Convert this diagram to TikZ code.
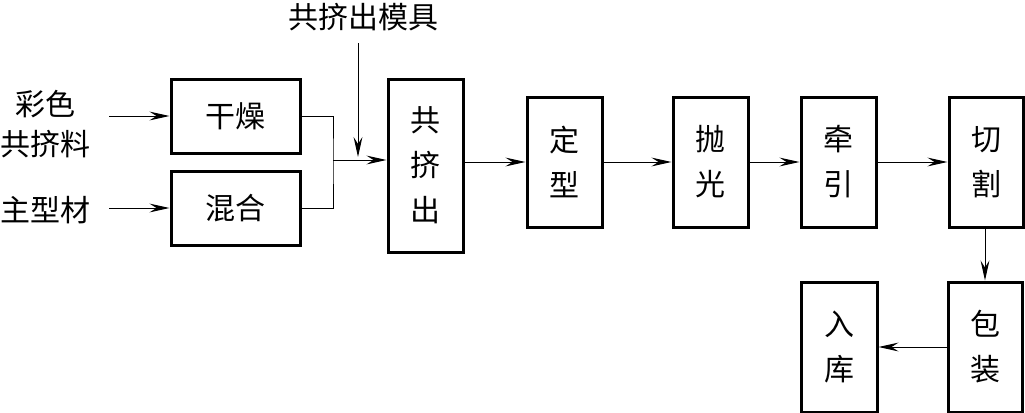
\documentclass[tikz,border=0pt]{standalone}
\usepackage{fontspec}
\newfontfamily\cjk{Noto Sans CJK SC}
\usetikzlibrary{arrows.meta}
\begin{document}
\begin{tikzpicture}[x=0.5pt,y=-0.5pt,
  box/.style={draw, line width=1.5pt, inner sep=0pt, align=center, font=\cjk\fontsize{15}{22.5}\selectfont},
  lbl/.style={inner sep=0pt, align=center, font=\cjk\fontsize{15}{20}\selectfont},
  arr/.style={line width=0.5pt, -{Stealth[length=10pt,width=4.4pt,inset=3.5pt]}},
  ln/.style={line width=0.5pt}]
\useasboundingbox (0,0) rectangle (1025,413);
% inputs
\node[lbl] (src1) at (46,124){彩色\\共挤料};
\node[lbl] (src2) at (46,210){主型材};
\node[box, minimum width=64.5pt, minimum height=37pt] (dry) at (235.5,116){干燥};
\node[box, minimum width=64.5pt, minimum height=37pt] (mix) at (235.5,208){混合};
\draw[arr, shorten <=9pt](src1.east |- dry) -- (dry);
\draw[arr, shorten <=9pt](src2.east |- mix) -- (mix);
% merge
\coordinate (junc) at (333,160);
\draw[ln](dry.east) -| (junc) |- (mix.east);
\node[box, minimum width=37.5pt, minimum height=86.5pt] (coex) at (425.5,165.5){共\\挤\\出};
\draw[arr](junc) -- (coex.west |- junc);
% die
\node[lbl] (die) at (363,17){共挤出模具};
\coordinate (dietop) at (358,43);
\coordinate (dietip) at (358,157);
\draw[arr](dietop) -- (dietip);
% main line
\node[box, minimum width=37.5pt, minimum height=65pt] (shape) at (564.5,162){定\\型};
\node[box, minimum width=37.5pt, minimum height=65pt] (polish) at (710.5,162){抛\\光};
\node[box, minimum width=37.5pt, minimum height=65pt] (pull) at (838.5,162){牵\\引};
\node[box, minimum width=37pt, minimum height=65pt] (cut) at (986,162){切\\割};
\draw[arr](coex.east |- shape) -- (shape);
\draw[arr](shape) -- (polish);
\draw[arr](polish) -- (pull);
\draw[arr](pull) -- (cut);
% bottom row
\node[box, minimum width=37pt, minimum height=65pt] (pack) at (985,347){包\\装};
\node[box, minimum width=38pt, minimum height=65pt] (store) at (839,347){入\\库};
\draw[arr](cut.south -| pack) -- (pack);
\draw[arr](pack) -- (store);
\end{tikzpicture}
\end{document}
